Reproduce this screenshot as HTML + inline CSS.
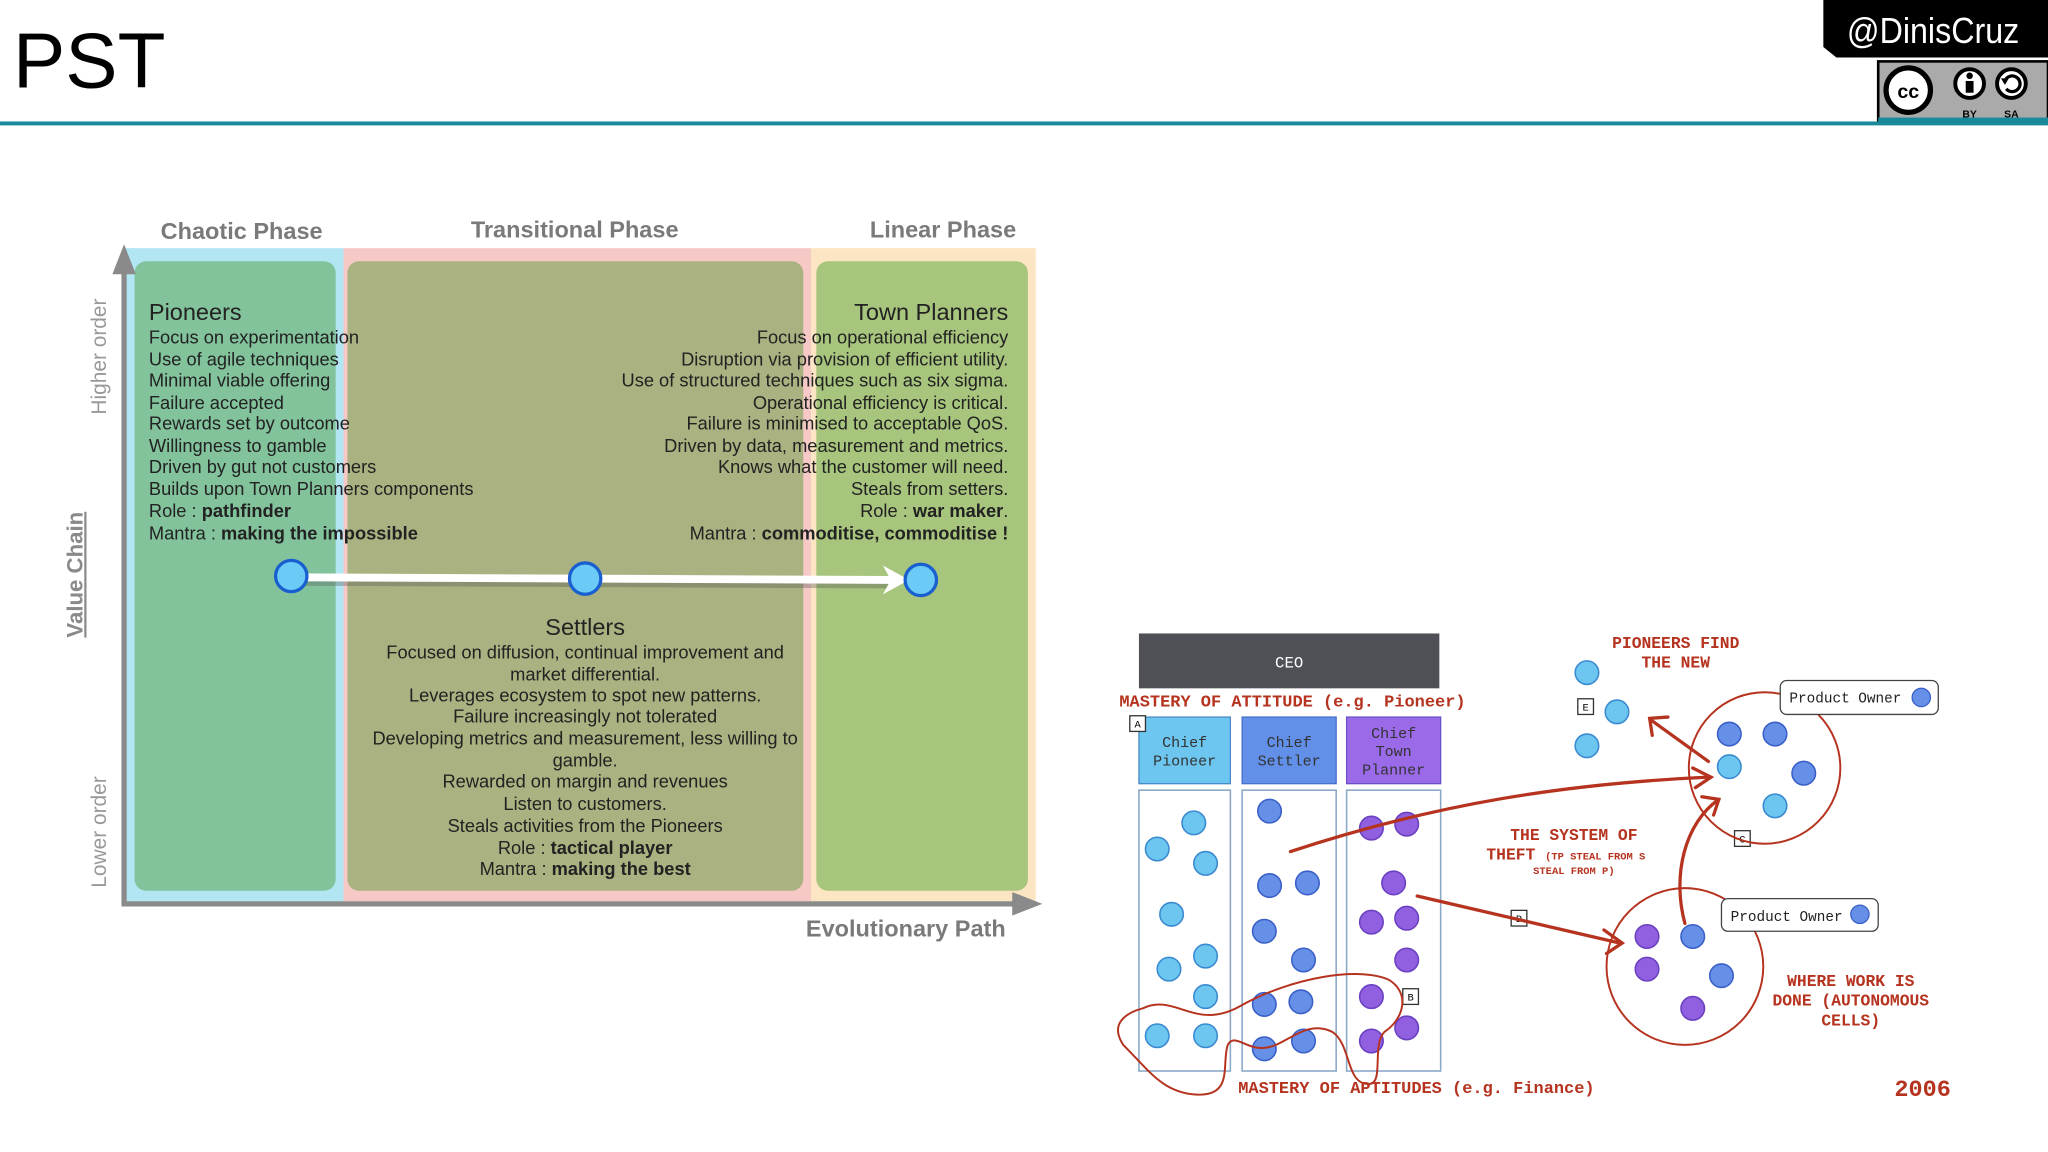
<!DOCTYPE html>
<html><head><meta charset="utf-8"><style>
html,body{margin:0;padding:0;background:#fff;}
svg{display:block;}
.m{font-family:"Liberation Mono",monospace;}
.s{font-family:"Liberation Sans",sans-serif;}
</style></head><body>
<svg width="2048" height="1152" viewBox="0 0 1568 882" preserveAspectRatio="none" xmlns="http://www.w3.org/2000/svg">
<rect width="1568" height="882" fill="#fff"/>
<text x="10" y="67" class="s" font-size="60" fill="#000">PST</text>
<rect x="0" y="93" width="1568" height="3" fill="#1a8a9a"/>
<path d="M1396 0 H1568 V44 H1406 L1396 36 Z" fill="#000"/>
<text x="1480" y="33" class="s" font-size="28" fill="#fff" text-anchor="middle" textLength="132" lengthAdjust="spacingAndGlyphs">@DinisCruz</text>
<rect x="1438" y="47" width="130" height="45" fill="#aaa" stroke="#000" stroke-width="2"/>
<circle cx="1461" cy="69" r="17" fill="#fff" stroke="#000" stroke-width="4"/>
<text x="1461" y="75" class="s" font-weight="bold" font-size="15" text-anchor="middle">cc</text>
<circle cx="1508" cy="64" r="11" fill="#fff" stroke="#000" stroke-width="3"/>
<circle cx="1508" cy="58" r="2.5" fill="#000"/><rect x="1505" y="62" width="6" height="9" fill="#000"/>
<circle cx="1540" cy="64" r="11" fill="#fff" stroke="#000" stroke-width="3"/>
<path d="M1535 62 A6 6 0 1 1 1536 68" fill="none" stroke="#000" stroke-width="2.5"/>
<path d="M1532 60 L1535 65 L1538 60 Z" fill="#000"/>
<text x="1508" y="90" class="s" font-weight="bold" font-size="8" text-anchor="middle">BY</text>
<text x="1540" y="90" class="s" font-weight="bold" font-size="8" text-anchor="middle">SA</text>
<rect x="1438" y="90" width="130" height="3" fill="#1a8a9a"/>

<!-- left diagram -->
<rect x="96" y="190" width="167" height="500" fill="#b3e6f3"/>
<rect x="263" y="190" width="358" height="500" fill="#f6c8c6"/>
<rect x="621" y="190" width="172" height="500" fill="#fbe5c2"/>
<rect x="103" y="200" width="154" height="482" rx="9" fill="#82c39c"/>
<rect x="266" y="200" width="349" height="482" rx="9" fill="#a9b280"/>
<rect x="625" y="200" width="162" height="482" rx="9" fill="#a7c57d"/>
<g stroke="#8a8a8a" stroke-width="4" fill="none"><line x1="95" y1="200" x2="95" y2="693"/><line x1="93" y1="692" x2="780" y2="692"/></g>
<path d="M86 210 L95 187 L104 210 Z" fill="#8a8a8a"/>
<path d="M775 683 L798 692 L775 701 Z" fill="#8a8a8a"/>
<g class="s" font-size="18" fill="#7a7a7a" font-weight="bold">
<text x="185" y="183" text-anchor="middle">Chaotic Phase</text>
<text x="440" y="182" text-anchor="middle">Transitional Phase</text>
<text x="722" y="182" text-anchor="middle">Linear Phase</text>
<text x="770" y="717" text-anchor="end">Evolutionary Path</text>
</g>
<g class="s" font-size="16" fill="#999">
<text transform="translate(81,273) rotate(-90)" text-anchor="middle">Higher order</text>
<text transform="translate(81,637) rotate(-90)" text-anchor="middle">Lower order</text>
</g>
<text transform="translate(63,440) rotate(-90)" text-anchor="middle" class="s" font-size="17" font-weight="bold" fill="#8a8a8a" text-decoration="underline">Value Chain</text>
<g class="s" font-size="14" fill="#222">
<text x="114" y="245" font-size="18">Pioneers</text>
<text x="114" y="263">Focus on experimentation</text>
<text x="114" y="280">Use of agile techniques</text>
<text x="114" y="296">Minimal viable offering</text>
<text x="114" y="313">Failure accepted</text>
<text x="114" y="329">Rewards set by outcome</text>
<text x="114" y="346">Willingness to gamble</text>
<text x="114" y="362">Driven by gut not customers</text>
<text x="114" y="379">Builds upon Town Planners components</text>
<text x="114" y="396">Role : <tspan font-weight="bold">pathfinder</tspan></text>
<text x="114" y="413">Mantra : <tspan font-weight="bold">making the impossible</tspan></text>
</g>
<g class="s" font-size="14" fill="#222" text-anchor="end">
<text x="772" y="245" font-size="18">Town Planners</text>
<text x="772" y="263">Focus on operational efficiency</text>
<text x="772" y="280">Disruption via provision of efficient utility.</text>
<text x="772" y="296">Use of structured techniques such as six sigma.</text>
<text x="772" y="313">Operational efficiency is critical.</text>
<text x="772" y="329">Failure is minimised to acceptable QoS.</text>
<text x="772" y="346">Driven by data, measurement and metrics.</text>
<text x="772" y="362">Knows what the customer will need.</text>
<text x="772" y="379">Steals from setters.</text>
<text x="772" y="396">Role : <tspan font-weight="bold">war maker</tspan>.</text>
<text x="772" y="413">Mantra : <tspan font-weight="bold">commoditise, commoditise !</tspan></text>
</g>
<g class="s" font-size="14" fill="#222" text-anchor="middle">
<text x="448" y="486" font-size="18">Settlers</text>
<text x="448" y="504">Focused on diffusion, continual improvement and</text>
<text x="448" y="521">market differential.</text>
<text x="448" y="537">Leverages ecosystem to spot new patterns.</text>
<text x="448" y="553">Failure increasingly not tolerated</text>
<text x="448" y="570">Developing metrics and measurement, less willing to</text>
<text x="448" y="587">gamble.</text>
<text x="448" y="603">Rewarded on margin and revenues</text>
<text x="448" y="620">Listen to customers.</text>
<text x="448" y="637">Steals activities from the Pioneers</text>
<text x="448" y="654">Role : <tspan font-weight="bold">tactical player</tspan></text>
<text x="448" y="670">Mantra : <tspan font-weight="bold">making the best</tspan></text>
</g>
<line x1="225" y1="445" x2="682" y2="447" stroke="#555" stroke-width="7" opacity="0.35"/>
<line x1="223" y1="442" x2="682" y2="444" stroke="#fff" stroke-width="6"/>
<path d="M676 433 L696 444 L676 455 L682 444 Z" fill="#fff"/>
<g fill="#6ccaf6" stroke="#1a5fd0" stroke-width="2.5">
<circle cx="223" cy="441" r="12"/><circle cx="448" cy="443" r="12"/><circle cx="705" cy="444" r="12"/></g>

<!-- right diagram -->
<rect x="872" y="485" width="230" height="42" fill="#4f5055"/>
<text x="987" y="511" class="m" font-size="12" fill="#fff" text-anchor="middle">CEO</text>
<g class="m" font-weight="bold" fill="#b5331f">
<text x="857" y="541" font-size="13">MASTERY OF ATTITUDE (e.g. Pioneer)</text>
<text x="948" y="837" font-size="13">MASTERY OF APTITUDES (e.g. Finance)</text>
<text x="1283" y="496" font-size="12.5" text-anchor="middle">PIONEERS FIND</text>
<text x="1283" y="511" font-size="12.5" text-anchor="middle">THE NEW</text>
<text x="1205" y="643" font-size="12.5" text-anchor="middle">THE SYSTEM OF</text>
<text x="1138" y="658" font-size="12.5">THEFT <tspan font-size="8">(TP STEAL FROM S</tspan></text>
<text x="1205" y="669" font-size="8" text-anchor="middle">STEAL FROM P)</text>
<text x="1417" y="755" font-size="12.5" text-anchor="middle">WHERE WORK IS</text>
<text x="1417" y="770" font-size="12.5" text-anchor="middle">DONE (AUTONOMOUS</text>
<text x="1417" y="785" font-size="12.5" text-anchor="middle">CELLS)</text>
<text x="1472" y="839" font-size="18" text-anchor="middle">2006</text>
</g>
<rect x="872" y="549" width="70" height="51" fill="#6cc6f0" stroke="#4a8ac8"/>
<rect x="951" y="549" width="72" height="51" fill="#6290e8" stroke="#4a70c8"/>
<rect x="1031" y="549" width="72" height="51" fill="#9a6ae8" stroke="#6a50c8"/>
<g class="m" font-size="11.5" fill="#333" text-anchor="middle">
<text x="907" y="572">Chief</text><text x="907" y="586">Pioneer</text>
<text x="987" y="572">Chief</text><text x="987" y="586">Settler</text>
<text x="1067" y="565">Chief</text><text x="1067" y="579">Town</text><text x="1067" y="593">Planner</text>
</g>
<g fill="none" stroke="#8aa8c8" stroke-width="1.2">
<rect x="872" y="605" width="70" height="215"/><rect x="951" y="605" width="72" height="215"/><rect x="1031" y="605" width="72" height="215"/>
</g>
<g class="m" font-size="8" text-anchor="middle" fill="#000">
<rect x="865" y="548" width="12" height="12" fill="#fff" stroke="#333"/><text x="871" y="557">A</text>
<rect x="1074" y="757" width="12" height="12" fill="#fff" stroke="#333"/><text x="1080" y="766">B</text>
<rect x="1328" y="636" width="12" height="12" fill="#fff" stroke="#333"/><text x="1334" y="645">C</text>
<rect x="1157" y="697" width="12" height="12" fill="#fff" stroke="#333"/><text x="1163" y="706">D</text>
<rect x="1208" y="535" width="12" height="12" fill="#fff" stroke="#333"/><text x="1214" y="544">E</text>
</g>
<g fill="#6cc6f0" stroke="#3a8ad0" stroke-width="1.2">
<circle cx="914" cy="630" r="9"/><circle cx="886" cy="650" r="9"/><circle cx="923" cy="661" r="9"/><circle cx="897" cy="700" r="9"/><circle cx="895" cy="742" r="9"/><circle cx="923" cy="732" r="9"/><circle cx="923" cy="763" r="9"/><circle cx="886" cy="793" r="9"/><circle cx="923" cy="793" r="9"/>
<circle cx="1215" cy="515" r="9"/><circle cx="1238" cy="545" r="9"/><circle cx="1215" cy="571" r="9"/>
<circle cx="1324" cy="587" r="9"/><circle cx="1359" cy="617" r="9"/>
</g>
<g fill="#6690e8" stroke="#3a60c8" stroke-width="1.2">
<circle cx="972" cy="621" r="9"/><circle cx="972" cy="678" r="9"/><circle cx="1001" cy="676" r="9"/><circle cx="968" cy="713" r="9"/><circle cx="998" cy="735" r="9"/><circle cx="968" cy="769" r="9"/><circle cx="996" cy="767" r="9"/><circle cx="968" cy="803" r="9"/><circle cx="998" cy="797" r="9"/>
<circle cx="1324" cy="562" r="9"/><circle cx="1359" cy="562" r="9"/><circle cx="1381" cy="592" r="9"/>
<circle cx="1296" cy="717" r="9"/><circle cx="1318" cy="747" r="9"/>
</g>
<g fill="#9060e0" stroke="#6a40c0" stroke-width="1.2">
<circle cx="1050" cy="634" r="9"/><circle cx="1077" cy="631" r="9"/><circle cx="1067" cy="676" r="9"/><circle cx="1050" cy="706" r="9"/><circle cx="1077" cy="703" r="9"/><circle cx="1077" cy="735" r="9"/><circle cx="1050" cy="763" r="9"/><circle cx="1077" cy="787" r="9"/><circle cx="1050" cy="797" r="9"/>
<circle cx="1261" cy="717" r="9"/><circle cx="1261" cy="742" r="9"/><circle cx="1296" cy="772" r="9"/>
</g>
<g fill="none" stroke="#b5331f" stroke-width="1.5">
<circle cx="1351" cy="588" r="58"/>
<circle cx="1290" cy="740" r="60"/>
<path d="M875 772 C900 760 915 790 950 770 C990 748 1040 740 1063 750 C1080 760 1075 780 1060 790 C1050 800 1060 830 1048 830 C1030 830 1035 800 1020 790 C1000 780 985 800 970 802 C955 805 945 790 940 800 C935 815 945 840 915 838 C890 836 880 820 860 800 C850 785 860 776 875 772 Z"/>
</g>
<g fill="none" stroke="#b5331f" stroke-width="2.5" stroke-linecap="round">
<path d="M988 652 C1100 615 1200 600 1308 595"/>
<path d="M1296 588 L1310 595 L1298 603"/>
<path d="M1085 686 L1240 722"/>
<path d="M1228 712 L1242 722 L1230 730"/>
<path d="M1290 707 C1280 670 1290 630 1316 612"/>
<path d="M1303 610 L1316 612 L1312 624"/>
<path d="M1308 583 L1265 552"/>
<path d="M1265 563 L1263 550 L1277 549"/>
</g>
<rect x="1363" y="521" width="121" height="26" rx="5" fill="#fff" stroke="#444"/>
<text x="1370" y="538" class="m" font-size="11" fill="#222">Product Owner</text>
<circle cx="1471" cy="534" r="7" fill="#6690e8" stroke="#3a60c8"/>
<rect x="1318" y="688" width="120" height="25" rx="5" fill="#fff" stroke="#444"/>
<text x="1325" y="705" class="m" font-size="11" fill="#222">Product Owner</text>
<circle cx="1424" cy="700" r="7" fill="#6690e8" stroke="#3a60c8"/>
</svg>
</body></html>
